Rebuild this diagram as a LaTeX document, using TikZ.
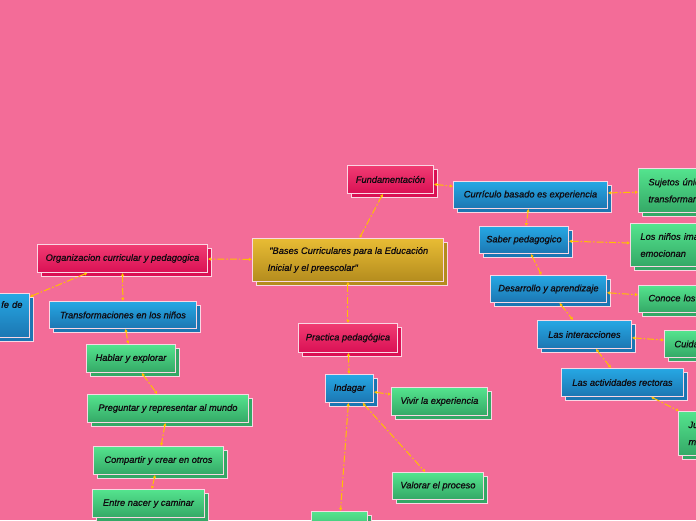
\documentclass[tikz,border=0pt]{standalone}
\usepackage{fontspec}
\setmainfont{Liberation Sans}
\newfontfamily\boxfont{Liberation Sans}[FakeBold=0.7]
\usetikzlibrary{shadows,arrows.meta}
\definecolor{bg}{RGB}{243,108,152}
\definecolor{edge}{RGB}{250,215,228}
\definecolor{txt}{RGB}{15,10,15}
\definecolor{crA}{RGB}{240,60,115}
\definecolor{crB}{RGB}{218,16,84}
\definecolor{blA}{RGB}{38,168,228}
\definecolor{blB}{RGB}{28,118,178}
\definecolor{grA}{RGB}{84,228,142}
\definecolor{grB}{RGB}{52,168,102}
\definecolor{goA}{RGB}{232,188,52}
\definecolor{goB}{RGB}{180,140,30}
\definecolor{lnk}{RGB}{255,192,0}
\tikzset{
  box/.style={rectangle, draw=edge, line width=0.9pt, anchor=north west, inner sep=2pt,
    font=\boxfont\itshape\fontsize{9.3}{13}\selectfont, text=txt, align=left},
  twoline/.style={font=\boxfont\itshape\fontsize{9.3}{17}\selectfont},
  crim/.style={box, top color=crA, bottom color=crB,
    general shadow={shadow xshift=4pt, shadow yshift=-4pt, fill=crB, draw=edge, line width=0.9pt}},
  blu/.style={box, top color=blA, bottom color=blB,
    general shadow={shadow xshift=4pt, shadow yshift=-4pt, fill=blB, draw=edge, line width=0.9pt}},
  grn/.style={box, top color=grA, bottom color=grB,
    general shadow={shadow xshift=4pt, shadow yshift=-4pt, fill=grB, draw=edge, line width=0.9pt}},
  gold/.style={box, top color=goA, bottom color=goB,
    general shadow={shadow xshift=4pt, shadow yshift=-4pt, fill=goB, draw=edge, line width=0.9pt}},
  conn/.style={draw=lnk, line width=1pt, dash pattern=on 7pt off 2pt on 1.5pt off 2pt,
    {Latex[length=3pt,width=3.5pt]}-{Latex[length=3pt,width=3.5pt]}}
}
\begin{document}
\begin{tikzpicture}[x=1pt,y=-1pt]
\useasboundingbox (0,0) rectangle (696,520);
\fill[bg] (0,0) rectangle (696,520);
\clip (0,0) rectangle (696,520);
% root
\node[gold, twoline, minimum width=191pt, minimum height=43pt] (root) at (252,238) {\,"Bases Curriculares para la Educación\\Inicial y el preescolar"};
% top branch
\node[crim, minimum width=86pt, minimum height=28pt] (fund) at (347,165) {Fundamentación};
\node[blu, minimum width=154pt, minimum height=27pt] (curr) at (453,181) {Currículo basado es experiencia};
\node[grn, twoline, minimum width=130pt, minimum height=44pt, text width=110pt] (suj) at (638,168) {Sujetos únicos en\\transformar};
\node[blu, minimum width=89pt, minimum height=27pt] (saber) at (479,226) {Saber pedagogico};
\node[grn, twoline, minimum width=140pt, minimum height=43pt, text width=120pt] (ninos) at (630,223) {Los niños imaginan y se\\emocionan};
\node[blu, minimum width=116pt, minimum height=27pt] (desa) at (490,275) {Desarrollo y aprendizaje};
\node[grn, minimum width=130pt, minimum height=27pt, text width=110pt] (conoce) at (638,285) {Conoce los procesos};
\node[blu, minimum width=94pt, minimum height=28pt] (inter) at (537,320) {Las interacciones};
\node[grn, minimum width=110pt, minimum height=27pt, text width=90pt] (cuida) at (664,330) {Cuidado};
\node[blu, minimum width=122pt, minimum height=28pt] (activ) at (561,368) {Las actividades rectoras};
\node[grn, twoline, minimum width=90pt, minimum height=44pt, text width=70pt] (juego) at (678,411) {Juego\\medio};
% left branch
\node[crim, minimum width=170pt, minimum height=28pt] (org) at (37,244) {Organizacion curricular y pedagogica};
\node[blu, twoline, minimum width=90pt, minimum height=44pt, text width=76pt, align=right] (fe) at (-61,293) {fe de\\ \strut};
\node[blu, minimum width=147pt, minimum height=27pt] (trans) at (49,301) {Transformaciones en los niños};
\node[grn, minimum width=89pt, minimum height=28pt] (habl) at (86,344) {Hablar y explorar};
\node[grn, minimum width=161pt, minimum height=28pt] (preg) at (87,394) {Preguntar y representar al mundo};
\node[grn, minimum width=130pt, minimum height=28pt] (comp) at (93,446) {Compartir y crear en otros};
\node[grn, minimum width=112pt, minimum height=28pt] (entre) at (92,489) {Entre nacer y caminar};
% bottom branch
\node[crim, minimum width=99pt, minimum height=29pt] (prac) at (298,323) {Practica pedagógica};
\node[blu, minimum width=48pt, minimum height=28pt] (inda) at (325,374) {Indagar};
\node[grn, minimum width=96pt, minimum height=28pt] (vivir) at (391,387) {Vivir la experiencia};
\node[grn, minimum width=91pt, minimum height=27pt] (valo) at (392,472) {Valorar el proceso};
\node[grn, minimum width=56pt, minimum height=28pt] (bot) at (311,511) {};
% connectors
\draw[conn] (root) -- (fund);
\draw[conn] (fund) -- (curr);
\draw[conn] (curr) -- (suj);
\draw[conn] (curr) -- (saber);
\draw[conn] (saber) -- (ninos);
\draw[conn] (saber) -- (desa);
\draw[conn] (desa) -- (conoce);
\draw[conn] (desa) -- (inter);
\draw[conn] (inter) -- (cuida);
\draw[conn] (inter) -- (activ);
\draw[conn] (activ) -- (juego);
\draw[conn] (root) -- (org);
\draw[conn] (org) -- (fe);
\draw[conn] (org) -- (trans);
\draw[conn] (trans) -- (habl);
\draw[conn] (habl) -- (preg);
\draw[conn] (preg) -- (comp);
\draw[conn] (comp) -- (entre);
\draw[conn] (root) -- (prac);
\draw[conn] (prac) -- (inda);
\draw[conn] (inda) -- (vivir);
\draw[conn] (inda) -- (valo);
\draw[conn] (inda) -- (bot);
\end{tikzpicture}
\end{document}
